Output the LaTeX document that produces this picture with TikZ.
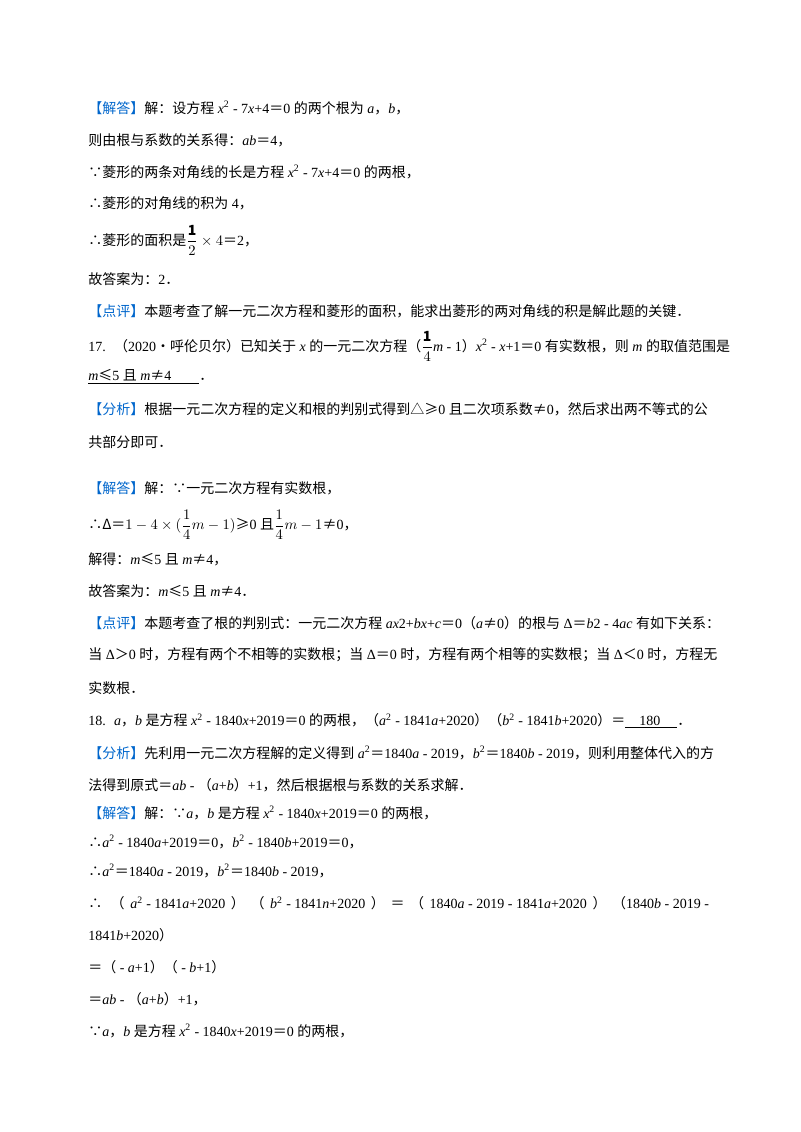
\documentclass[tikz,border=0pt]{standalone}
\usepackage{amsmath}
\usepackage{fontspec}
\setmainfont{Noto Sans CJK SC}
\newfontfamily\lat{Liberation Serif}
\newcommand\m[1]{{\lat #1}}
\newcommand\mi[1]{{\lat\itshape #1}}
\newcommand\gp{\hspace{0.25em}}
\definecolor{tagblue}{RGB}{0,102,204}
\newcommand\qtag[1]{{\color{tagblue}【#1】}}
\begin{document}
\begin{tikzpicture}[x=0.75pt,y=-0.75pt,
  ln/.style={anchor=west,inner sep=0pt,font=\fontsize{10.5}{12}\selectfont}]
\useasboundingbox (0,0) rectangle (800,1132);
\node[ln] (l1) at (88,108) {\qtag{解答}解：设方程\gp\mi{x}\textsuperscript{\m{2}}\m{ - 7}\mi{x}\m{+4}＝\m{0}\gp 的两个根为\gp\mi{a}，\mi{b}，};
\node[ln] (l2) at (88,140) {则由根与系数的关系得：\mi{ab}＝\m{4}，};
\node[ln] (l3) at (88,172) {∵菱形的两条对角线的长是方程\gp\mi{x}\textsuperscript{\m{2}}\m{ - 7}\mi{x}\m{+4}＝\m{0}\gp 的两根，};
\node[ln] (l4) at (88,203) {∴菱形的对角线的积为\gp\m{4}，};
\node[ln] (l5) at (88,240) {∴菱形的面积是$\dfrac{\mathbf 1}{2}\times 4$＝\m{2}，};
\node[ln] (l6) at (88,279) {故答案为：\m{2}．};
\node[ln] (l7) at (88,311) {\qtag{点评}本题考查了解一元二次方程和菱形的面积，能求出菱形的两对角线的积是解此题的关键．};
\node[ln] (l8) at (88,346) {\m{17.}\hspace{0.6em}（\m{2020}•呼伦贝尔）已知关于\gp\mi{x}\gp 的一元二次方程（$\dfrac{\mathbf 1}{4}$\mi{m}\m{ - 1}）\mi{x}\textsuperscript{\m{2}}\m{ - }\mi{x}\m{+1}＝\m{0}\gp 有实数根，则\gp\mi{m}\gp 的取值范围是};
\node[ln] (l9) at (88,377) {\underline{\mi{m}≤\m{5}\gp 且\gp\mi{m}≠\m{4}\hspace{2em}}．};
\node[ln] (l10) at (88,409) {\qtag{分析}根据一元二次方程的定义和根的判别式得到△≥\m{0}\gp 且二次项系数≠\m{0}，然后求出两不等式的公};
\node[ln] (l11) at (88,442) {共部分即可．};
\node[ln] (l12) at (88,488) {\qtag{解答}解：∵一元二次方程有实数根，};
\node[ln] (l13) at (88,525) {∴Δ＝$1-4\times(\dfrac{1}{4}m-1)$≥\m{0}\gp 且$\dfrac{1}{4}m-1$≠\m{0}，};
\node[ln] (l14) at (88,559) {解得：\mi{m}≤\m{5}\gp 且\gp\mi{m}≠\m{4}，};
\node[ln] (l15) at (88,591) {故答案为：\mi{m}≤\m{5}\gp 且\gp\mi{m}≠\m{4}．};
\node[ln] (l16) at (88,623) {\qtag{点评}本题考查了根的判别式：一元二次方程\gp\mi{ax}\m{2+}\mi{bx}\m{+}\mi{c}＝\m{0}（\mi{a}≠\m{0}）的根与\gp\m{Δ}＝\mi{b}\m{2 - 4}\mi{ac}\gp 有如下关系：};
\node[ln] (l17) at (88,655) {当\gp\m{Δ}＞\m{0}\gp 时，方程有两个不相等的实数根；当\gp\m{Δ}＝\m{0}\gp 时，方程有两个相等的实数根；当\gp\m{Δ}＜\m{0}\gp 时，方程无};
\node[ln] (l18) at (88,688) {实数根．};
\node[ln] (l19) at (88,721) {\m{18.}\hspace{0.6em}\mi{a}，\mi{b}\gp 是方程\gp\mi{x}\textsuperscript{\m{2}}\m{ - 1840}\mi{x}\m{+2019}＝\m{0}\gp 的两根，（\mi{a}\textsuperscript{\m{2}}\m{ - 1841}\mi{a}\m{+2020}）（\mi{b}\textsuperscript{\m{2}}\m{ - 1841}\mi{b}\m{+2020}）＝\underline{\hspace{1em}\m{180}\hspace{1.2em}}．};
\node[ln] (l20) at (88,753) {\qtag{分析}先利用一元二次方程解的定义得到\gp\mi{a}\textsuperscript{\m{2}}＝\m{1840}\mi{a}\m{ - 2019}，\mi{b}\textsuperscript{\m{2}}＝\m{1840}\mi{b}\m{ - 2019}，则利用整体代入的方};
\node[ln] (l21) at (88,785) {法得到原式＝\mi{ab}\m{ - }（\mi{a}\m{+}\mi{b}）\m{+1}，然后根据根与系数的关系求解．};
\node[ln] (l22) at (88,813) {\qtag{解答}解：∵\mi{a}，\mi{b}\gp 是方程\gp\mi{x}\textsuperscript{\m{2}}\m{ - 1840}\mi{x}\m{+2019}＝\m{0}\gp 的两根，};
\node[ln] (l23) at (88,842) {∴\mi{a}\textsuperscript{\m{2}}\m{ - 1840}\mi{a}\m{+2019}＝\m{0}，\mi{b}\textsuperscript{\m{2}}\m{ - 1840}\mi{b}\m{+2019}＝\m{0}，};
\node[ln] (l24) at (88,871) {∴\mi{a}\textsuperscript{\m{2}}＝\m{1840}\mi{a}\m{ - 2019}，\mi{b}\textsuperscript{\m{2}}＝\m{1840}\mi{b}\m{ - 2019}，};
\node[ln] (l25) at (88,903) {∴\hspace{0.6em}（\hspace{0.4em}\mi{a}\textsuperscript{\m{2}}\m{ - 1841}\mi{a}\m{+2020}\hspace{0.4em}）\hspace{0.4em}（\hspace{0.4em}\mi{b}\textsuperscript{\m{2}}\m{ - 1841}\mi{n}\m{+2020}\hspace{0.4em}）\hspace{0.4em}＝\hspace{0.4em}（\hspace{0.4em}\m{1840}\mi{a}\m{ - 2019 - 1841}\mi{a}\m{+2020}\hspace{0.4em}）\hspace{0.4em}（\m{1840}\mi{b}\m{ - 2019 -}};
\node[ln] (l26) at (88,935) {\m{1841}\mi{b}\m{+2020}）};
\node[ln] (l27) at (88,967) {＝（\m{ - }\mi{a}\m{+1}）（\m{ - }\mi{b}\m{+1}）};
\node[ln] (l28) at (88,999) {＝\mi{ab}\m{ - }（\mi{a}\m{+}\mi{b}）\m{+1}，};
\node[ln] (l29) at (88,1031) {∵\mi{a}，\mi{b}\gp 是方程\gp\mi{x}\textsuperscript{\m{2}}\m{ - 1840}\mi{x}\m{+2019}＝\m{0}\gp 的两根，};
\end{tikzpicture}
\end{document}
